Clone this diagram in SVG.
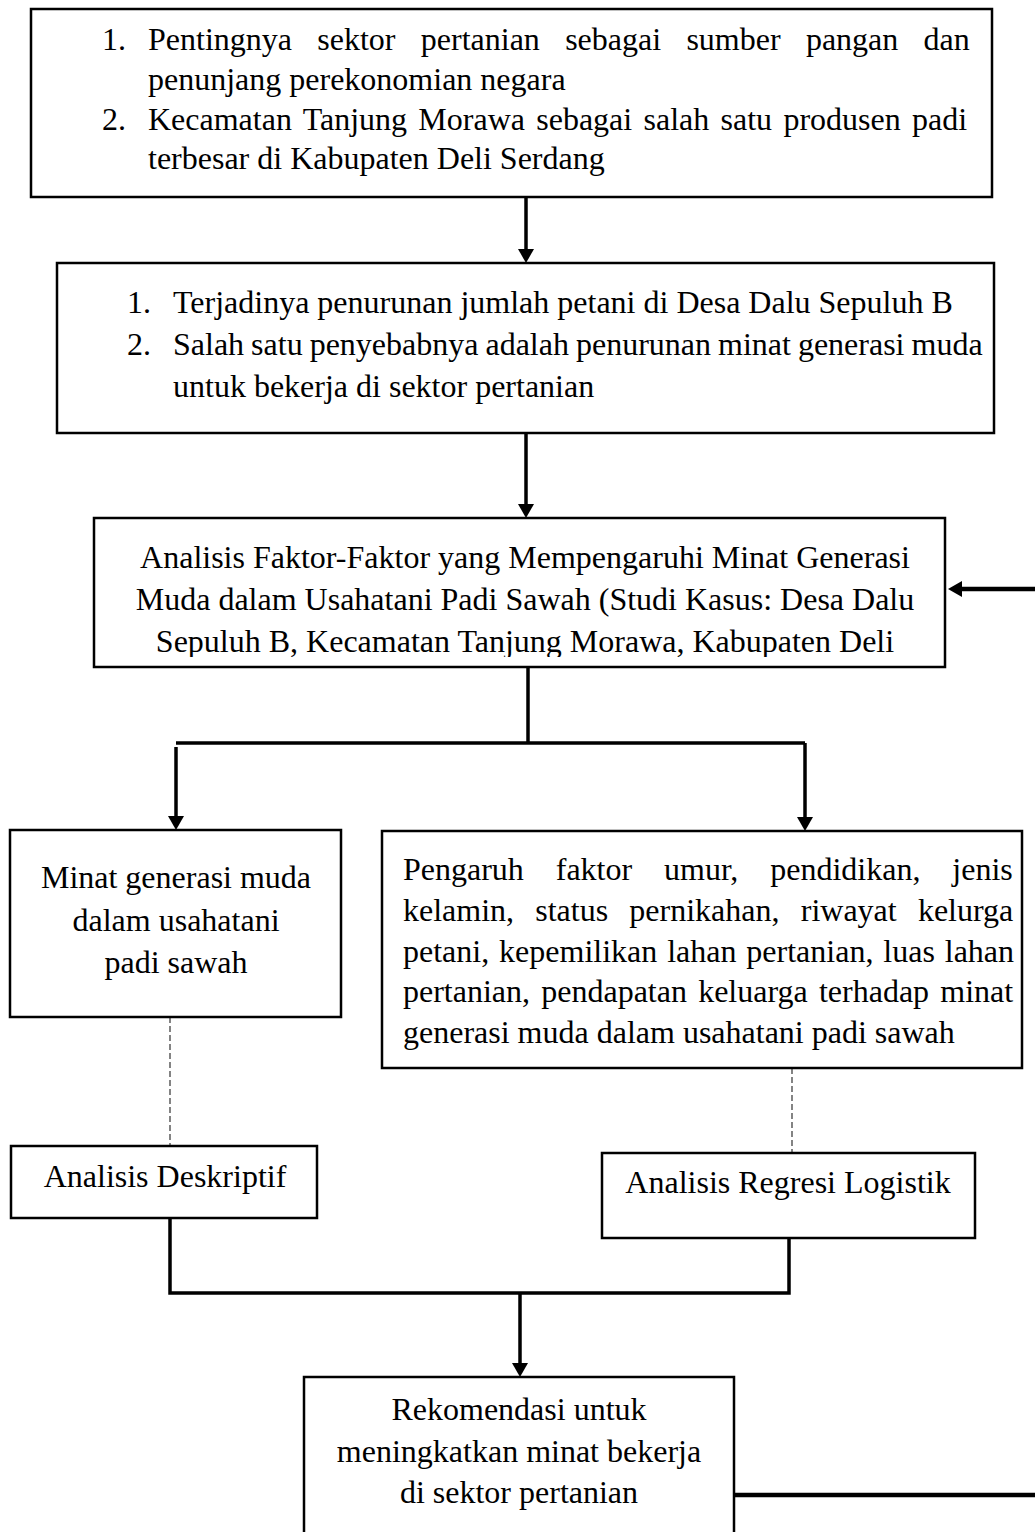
<svg xmlns="http://www.w3.org/2000/svg" width="1035" height="1532" viewBox="0 0 1035 1532">
<style>
.box{fill:#fff;stroke:#000;stroke-width:2.5}
.t{font-family:"Liberation Serif","Times New Roman",serif;font-size:32px;fill:#000}
.c{text-anchor:middle}
.ln{stroke:#000;stroke-width:3.5;fill:none}
.thick{stroke:#000;stroke-width:4.5;fill:none}
.dash{stroke:#333;stroke-width:1.2;stroke-dasharray:6,3;fill:none}
</style>
<defs>
<marker id="ah" markerUnits="userSpaceOnUse" markerWidth="14" markerHeight="16" refX="4" refY="8" orient="auto">
<path d="M0,0 L14,8 L0,16 Z" fill="#000"/>
</marker>
<clipPath id="clip3"><rect x="94" y="518" width="851" height="139"/></clipPath>
</defs>
<rect width="1035" height="1532" fill="#fff"/>

<g id="connectors">
<line class="ln" x1="526" y1="197" x2="526" y2="253" marker-end="url(#ah)"/>
<line class="ln" x1="526" y1="433" x2="526" y2="508" marker-end="url(#ah)"/>
<line class="ln" x1="528" y1="667" x2="528" y2="743"/>
<line class="ln" x1="176" y1="743" x2="805" y2="743"/>
<line class="ln" x1="176" y1="747" x2="176" y2="820" marker-end="url(#ah)"/>
<line class="ln" x1="805" y1="743" x2="805" y2="821" marker-end="url(#ah)"/>
<line class="dash" x1="170" y1="1017" x2="170" y2="1146"/>
<line class="dash" x1="792" y1="1068" x2="792" y2="1153"/>
<polyline class="ln" points="170,1218 170,1293 789,1293 789,1236"/>
<line class="ln" x1="520" y1="1293" x2="520" y2="1367" marker-end="url(#ah)"/>
<line class="thick" x1="734" y1="1495" x2="1035" y2="1495"/>
<line class="thick" x1="1035" y1="589" x2="958" y2="589" marker-end="url(#ah)"/>
</g>

<g id="n1">
<rect class="box" x="31" y="9" width="961" height="188"/>
<text class="t" x="102" y="50">1.</text>
<text class="t" x="148" y="50" word-spacing="17.3">Pentingnya sektor pertanian sebagai sumber pangan dan</text>
<text class="t" x="148" y="90">penunjang perekonomian negara</text>
<text class="t" x="102" y="130">2.</text>
<text class="t" x="148" y="130" word-spacing="3.3">Kecamatan Tanjung Morawa sebagai salah satu produsen padi</text>
<text class="t" x="148" y="169">terbesar di Kabupaten Deli Serdang</text>
</g>

<g id="n2">
<rect class="box" x="57" y="263" width="937" height="170"/>
<text class="t" x="127" y="313">1.</text>
<text class="t" x="173" y="313">Terjadinya penurunan jumlah petani di Desa Dalu Sepuluh B</text>
<text class="t" x="127" y="355">2.</text>
<text class="t" x="173" y="355" word-spacing="-1">Salah satu penyebabnya adalah penurunan minat generasi muda</text>
<text class="t" x="173" y="397">untuk bekerja di sektor pertanian</text>
</g>

<g id="n3">
<rect class="box" x="94" y="518" width="851" height="149"/>
<g clip-path="url(#clip3)">
<text class="t c" x="525" y="568">Analisis Faktor-Faktor yang Mempengaruhi Minat Generasi</text>
<text class="t c" x="525" y="610">Muda dalam Usahatani Padi Sawah (Studi Kasus: Desa Dalu</text>
<text class="t c" x="525" y="652">Sepuluh B, Kecamatan Tanjung Morawa, Kabupaten Deli</text>
</g>
</g>

<g id="n4">
<rect class="box" x="10" y="830" width="331" height="187"/>
<text class="t c" x="176" y="888">Minat generasi muda</text>
<text class="t c" x="176" y="931">dalam usahatani</text>
<text class="t c" x="176" y="973">padi sawah</text>
</g>

<g id="n5">
<rect class="box" x="382" y="831" width="640" height="237"/>
<text class="t" x="403" y="880" word-spacing="23.9">Pengaruh faktor umur, pendidikan, jenis</text>
<text class="t" x="403" y="921" word-spacing="13.2">kelamin, status pernikahan, riwayat kelurga</text>
<text class="t" x="403" y="962" word-spacing="1.9">petani, kepemilikan lahan pertanian, luas lahan</text>
<text class="t" x="403" y="1002" word-spacing="3.2">pertanian, pendapatan keluarga terhadap minat</text>
<text class="t" x="403" y="1043">generasi muda dalam usahatani padi sawah</text>
</g>

<g id="n6">
<rect class="box" x="11" y="1146" width="306" height="72"/>
<text class="t c" x="165" y="1187">Analisis Deskriptif</text>
</g>

<g id="n7">
<rect class="box" x="602" y="1153" width="373" height="85"/>
<text class="t c" x="788" y="1193">Analisis Regresi Logistik</text>
</g>

<g id="n8">
<rect class="box" x="304" y="1377" width="430" height="170"/>
<text class="t c" x="519" y="1420">Rekomendasi untuk</text>
<text class="t c" x="519" y="1462">meningkatkan minat bekerja</text>
<text class="t c" x="519" y="1503">di sektor pertanian</text>
</g>
</svg>
